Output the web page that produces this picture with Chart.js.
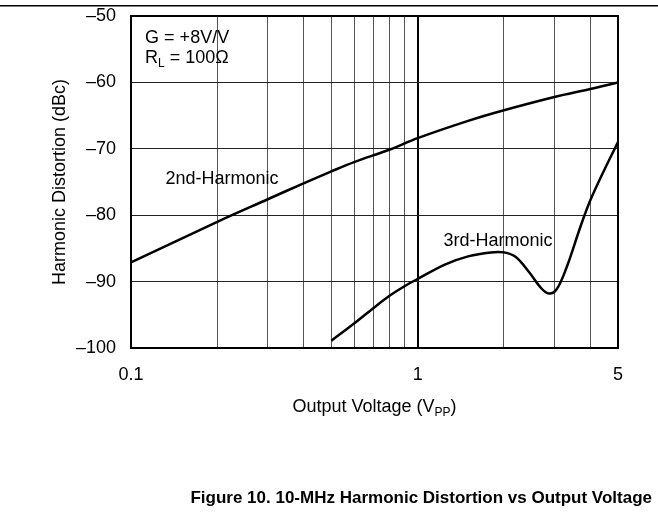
<!DOCTYPE html>
<html>
<head>
<meta charset="utf-8">
<script src="https://cdn.jsdelivr.net/npm/chart.js@4.4.1/dist/chart.umd.min.js"></script>
<style>
  html, body { margin: 0; padding: 0; background: #fff; }
  #wrap { position: relative; width: 658px; height: 523px; }
</style>
</head>
<body>
<div id="wrap"><canvas id="distChart" width="658" height="523"></canvas></div>
<script>
// Values (x in Vpp, y in dBc)
const secondX  = [0.1, 0.2, 0.3, 0.4, 0.5, 0.6, 0.8, 1, 1.5, 2, 3, 4, 5];
const secondDb = [-87.1, -81.0, -77.6, -75.2, -73.4, -72.0, -70.1, -68.4, -65.8, -64.2, -62.2, -61.0, -60.0];

const thirdX  = [0.5, 0.6, 0.7, 0.8, 0.9, 1, 1.25, 1.5, 1.8, 2, 2.2, 2.45, 2.7, 2.87, 3.05, 3.3, 3.7, 4, 4.5, 5];
const thirdDb = [-98.9, -96.3, -94.0, -92.1, -90.7, -89.6, -87.4, -86.2, -85.6, -85.6, -86.3, -88.6, -91.0, -91.8, -91.2, -88.0, -81.7, -77.8, -73.0, -69.0];

// Axis ticks
const xGridValues  = [0.1, 0.2, 0.3, 0.4, 0.5, 0.6, 0.7, 0.8, 0.9, 1, 2, 3, 4, 5];
const xLabelValues = [0.1, 1, 5];
const yTicks = [-100, -90, -80, -70, -60, -50];

const FAMILY = "'Liberation Sans', Arial, sans-serif";
const MAIN_FONT = '18px ' + FAMILY;
const SUB_FONT = '12px ' + FAMILY;

// Text placed inside the plot, anchored in data units (left edge, baseline)
const notes = [
    { x: 0.112, y: -54.1, parts: [{ t: 'G = +8V/V' }] },
    { x: 0.112, y: -57.1, parts: [{ t: 'R' }, { t: 'L', sub: true }, { t: ' = 100\u03A9' }] },
    { x: 0.132, y: -75.3, parts: [{ t: '2nd-Harmonic' }] },
    { x: 1.23,  y: -84.6, parts: [{ t: '3rd-Harmonic' }] }
];

function toPoints(xs, ys) {
    return xs.map((x, i) => ({ x: x, y: ys[i] }));
}

// Draws a run of text where some pieces are subscripts
function drawRich(ctx, parts, x, y, align) {
    let width = 0;
    parts.forEach(p => {
        ctx.font = p.sub ? SUB_FONT : MAIN_FONT;
        width += ctx.measureText(p.t).width;
    });
    let cx = align === 'center' ? x - width / 2 : x;
    ctx.textAlign = 'left';
    ctx.textBaseline = 'alphabetic';
    parts.forEach(p => {
        ctx.font = p.sub ? SUB_FONT : MAIN_FONT;
        ctx.fillText(p.t, cx, p.sub ? y + 4 : y);
        cx += ctx.measureText(p.t).width;
    });
}

const decor = {
    id: 'decor',
    afterDraw(chart) {
        const ctx = chart.ctx;
        const area = chart.chartArea;
        const xs = chart.scales.x;
        const ys = chart.scales.y;
        ctx.save();
        ctx.fillStyle = '#000';
        ctx.strokeStyle = '#000';

        // page rule at the top
        ctx.fillRect(0, 5, chart.width, 1.5);

        // plot frame
        ctx.lineWidth = 2;
        ctx.strokeRect(area.left, area.top, area.right - area.left, area.bottom - area.top);

        // notes inside the plot
        notes.forEach(n => {
            drawRich(ctx, n.parts, xs.getPixelForValue(n.x), ys.getPixelForValue(n.y), 'left');
        });

        // x axis title
        drawRich(ctx, [{ t: 'Output Voltage (V' }, { t: 'PP', sub: true }, { t: ')' }],
            (area.left + area.right) / 2, 412, 'center');

        // y axis title
        ctx.save();
        ctx.translate(60, (area.top + area.bottom) / 2);
        ctx.rotate(-Math.PI / 2);
        ctx.font = MAIN_FONT;
        ctx.textAlign = 'center';
        ctx.textBaseline = 'middle';
        ctx.fillText('Harmonic Distortion (dBc)', 0, 0);
        ctx.restore();

        // figure caption
        ctx.font = 'bold 17px ' + FAMILY;
        ctx.textAlign = 'right';
        ctx.textBaseline = 'alphabetic';
        ctx.fillText('Figure 10. 10-MHz Harmonic Distortion vs Output Voltage', 652, 503);

        ctx.restore();
    }
};

const lineStyle = {
    borderColor: '#000',
    borderWidth: 2.5,
    pointRadius: 0,
    fill: false,
    tension: 0.35
};

new Chart(document.getElementById('distChart').getContext('2d'), {
    type: 'line',
    data: {
        datasets: [
            { label: '2nd-Harmonic', data: toPoints(secondX, secondDb), ...lineStyle },
            { label: '3rd-Harmonic', data: toPoints(thirdX, thirdDb), ...lineStyle }
        ]
    },
    options: {
        responsive: false,
        animation: false,
        layout: { padding: { top: 16, right: 40, left: 0, bottom: 0 } },
        plugins: { legend: { display: false }, tooltip: { enabled: false } },
        scales: {
            x: {
                type: 'logarithmic',
                min: 0.1,
                max: 5,
                afterBuildTicks: s => { s.ticks = xGridValues.map(v => ({ value: v })); },
                afterFit: s => { s.height = 175; },
                ticks: {
                    autoSkip: false,
                    maxRotation: 0,
                    padding: 16,
                    color: '#000',
                    font: { family: FAMILY, size: 18 },
                    callback: v => xLabelValues.includes(v) ? String(v) : ''
                },
                grid: {
                    drawTicks: false,
                    color: c => (c.tick && c.tick.value === 1) ? '#000' : '#555',
                    lineWidth: c => (c.tick && c.tick.value === 1) ? 2 : 1
                },
                border: { display: false }
            },
            y: {
                min: -100,
                max: -50,
                afterBuildTicks: s => { s.ticks = yTicks.map(v => ({ value: v })); },
                // tick padding would otherwise push the plot top down
                afterFit: s => { s.width = 131; s.paddingTop = 0; s.paddingBottom = 0; },
                ticks: {
                    padding: 15,
                    color: '#000',
                    font: { family: FAMILY, size: 18 },
                    callback: v => v < 0 ? '\u2013' + Math.abs(v) : String(v)
                },
                grid: { drawTicks: false, color: '#222', lineWidth: 1 },
                border: { display: false }
            }
        }
    },
    plugins: [decor]
});
</script>
</body>
</html>
